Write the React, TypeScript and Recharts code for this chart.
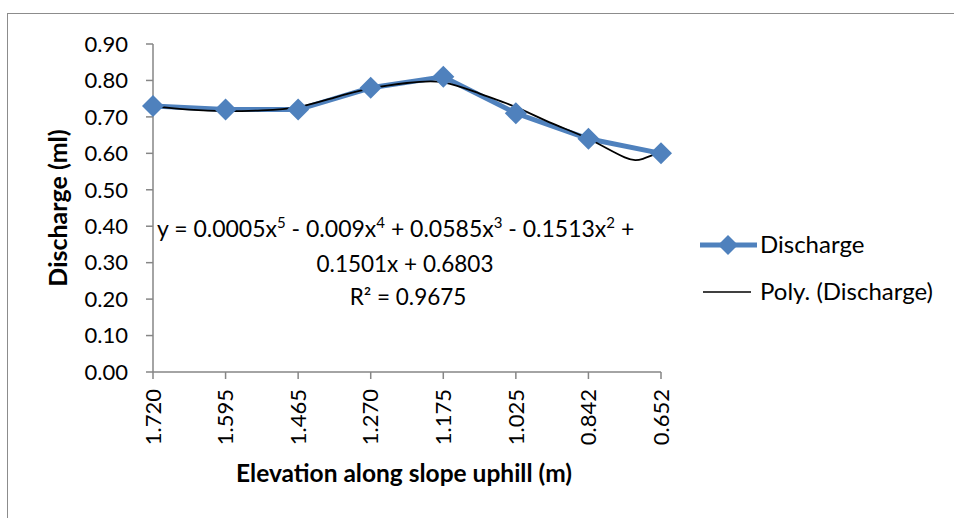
import { LineChart, Line, XAxis, YAxis, Legend } from 'recharts'

// categories on the x axis (elevation, m)
const categories = ['1.720', '1.595', '1.465', '1.270', '1.175', '1.025', '0.842', '0.652']
const discharge = [0.73, 0.72, 0.72, 0.78, 0.81, 0.71, 0.64, 0.6]
const yTicks = [0, 0.1, 0.2, 0.3, 0.4, 0.5, 0.6, 0.7, 0.8, 0.9]

// poly trendline at half-category steps
const trendX = [0, 0.5, 1, 1.5, 2, 2.5, 3, 3.5, 4, 4.5, 5, 5.5, 6, 6.5, 6.75, 7]
const trendY = [0.729, 0.72, 0.716, 0.718, 0.727, 0.753, 0.778, 0.793, 0.795, 0.764, 0.727, 0.682, 0.64, 0.589, 0.585, 0.604]

const FONT = 'Lato, "Open Sans", sans-serif'
const BLUE = '#4F81BD'
const AXIS = '#868686'

const dischargeData = discharge.map((v, i) => ({ x: i, v }))
const trendData = trendX.map((x, i) => ({ x, t: trendY[i] }))
const xTicks = categories.map((_, i) => i)

function Diamond(props: any) {
  const { cx, cy } = props
  if (cx == null || cy == null) return null
  const r = 11
  return (
    <polygon
      points={`${cx},${cy - r} ${cx + r},${cy} ${cx},${cy + r} ${cx - r},${cy}`}
      fill={BLUE}
      stroke="none"
    />
  )
}

function XTick(props: any) {
  const { x, y, payload } = props
  return (
    <text
      x={x}
      y={y}
      dy="0.35em"
      textAnchor="end"
      transform={`rotate(-90, ${x}, ${y})`}
      fontSize={22}
      fontFamily={FONT}
      fill="#000"
    >
      {categories[payload.value]}
    </text>
  )
}

function LegendBox() {
  return (
    <svg width={254} height={90} style={{ display: 'block' }}>
      <line x1={2} y1={15} x2={59} y2={15} stroke={BLUE} strokeWidth={5} />
      <polygon points="30,5 40,15 30,25 20,15" fill={BLUE} />
      <text x={62} y={23} fontSize={24} fontFamily={FONT} fill="#000">Discharge</text>
      <line x1={5} y1={62} x2={53} y2={62} stroke="#000" strokeWidth={1.5} />
      <text x={62} y={70} fontSize={24} fontFamily={FONT} fill="#000">Poly. (Discharge)</text>
    </svg>
  )
}

function Sup({ children }: { children: string }) {
  return (
    <>
      <tspan dy={-9} fontSize={15}>{children}</tspan>
      <tspan dy={9}> </tspan>
    </>
  )
}

export default function App() {
  return (
    <div style={{ position: 'absolute', left: 0, top: 0, width: 954, height: 518, background: '#fff' }}>
      <div
        style={{
          position: 'absolute',
          left: 7,
          top: 13,
          right: 0,
          bottom: 0,
          borderTop: '1.5px solid #8c8c8c',
          borderLeft: '1.5px solid #8c8c8c',
        }}
      />
      <LineChart width={954} height={518} margin={{ top: 44, right: 293, bottom: 66, left: 0 }}>
        <XAxis
          type="number"
          dataKey="x"
          domain={[0, 7]}
          ticks={xTicks}
          interval={0}
          height={80}
          stroke={AXIS}
          strokeWidth={1.5}
          tickSize={7}
          tickMargin={10}
          tick={<XTick />}
          allowDuplicatedCategory={false}
        />
        <YAxis
          type="number"
          domain={[0, 0.9]}
          ticks={yTicks}
          interval={0}
          width={153}
          stroke={AXIS}
          strokeWidth={1.5}
          tickSize={7}
          tickMargin={18}
          tickFormatter={(v: number) => v.toFixed(2)}
          tick={{ fill: '#000', fontSize: 22, fontFamily: FONT }}
        />
        <Legend
          layout="horizontal"
          verticalAlign="middle"
          align="center"
          wrapperStyle={{ position: 'absolute', left: 698, top: 230, width: 254 }}
          content={() => <LegendBox />}
        />
        <Line
          data={dischargeData}
          dataKey="v"
          name="Discharge"
          stroke={BLUE}
          strokeWidth={5}
          dot={<Diamond />}
          activeDot={false}
          isAnimationActive={false}
        />
        <Line
          data={trendData}
          dataKey="t"
          name="Poly. (Discharge)"
          type="natural"
          stroke="#000"
          strokeWidth={1.8}
          dot={false}
          activeDot={false}
          isAnimationActive={false}
        />
      </LineChart>
      <svg
        width={954}
        height={518}
        style={{ position: 'absolute', left: 0, top: 0, pointerEvents: 'none' }}
        fontFamily={FONT}
      >
        <text
          transform="rotate(-90, 67, 208)"
          x={67}
          y={208}
          textAnchor="middle"
          fontSize={25}
          fontWeight="bold"
          fill="#000"
        >
          Discharge (ml)
        </text>
        <text x={404} y={482} textAnchor="middle" fontSize={24.5} fontWeight="bold" fill="#000">
          Elevation along slope uphill (m)
        </text>
        <text x={157} y={237} fontSize={23} fill="#000">
          y = 0.0005x<Sup>5</Sup>- 0.009x<Sup>4</Sup>+ 0.0585x<Sup>3</Sup>- 0.1513x<Sup>2</Sup>+
        </text>
        <text x={405} y={272} textAnchor="middle" fontSize={22.5} fill="#000">
          0.1501x + 0.6803
        </text>
        <text x={408} y={305} textAnchor="middle" fontSize={22.5} fill="#000">
          R² = 0.9675
        </text>
      </svg>
    </div>
  )
}
